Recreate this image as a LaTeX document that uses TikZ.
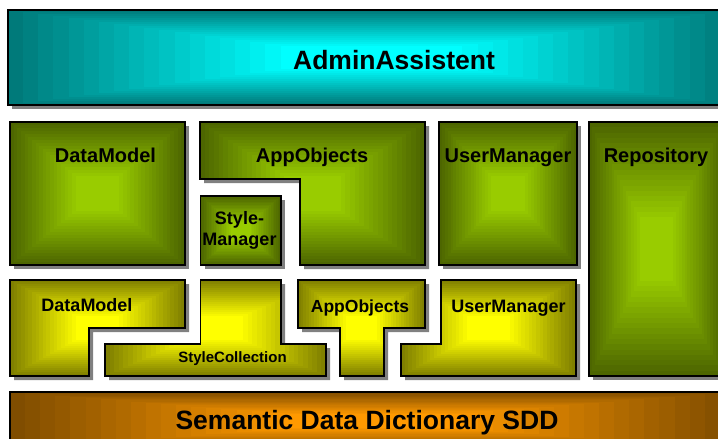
\documentclass[tikz,border=0pt]{standalone}
\usepackage{fontspec}
\setmainfont{Liberation Sans}
\definecolor{tealedge}{RGB}{0,122,122}
\definecolor{tealmid}{RGB}{0,255,255}
\definecolor{greenedge}{RGB}{77,102,0}
\definecolor{greenmid}{RGB}{153,204,0}
\definecolor{yeledge}{RGB}{128,128,0}
\definecolor{yelmid}{RGB}{255,255,0}
\definecolor{orgedge}{RGB}{128,77,0}
\definecolor{orgmid}{RGB}{255,153,0}
\definecolor{shadowgray}{RGB}{128,128,128}
\tikzset{
  outline/.style={draw=black, line width=1.1pt, line join=miter},
  shadowfill/.style={fill=shadowgray},
  lbl/.style={inner sep=0pt, anchor=base, align=center, font=\bfseries\fontsize{#1}{21}\selectfont},
}
% #1 path, #2-#5 bounding box x1 y1 x2 y2, #6 edge colour, #7 centre colour
\newcommand{\gshape}[7]{%
  \fill[shadowfill, shift={(4,4)}] #1;
  \begin{scope}
    \clip #1;
    \foreach \gk in {0,...,23}{%
      \pgfmathsetmacro{\gdx}{\gk/24*(#4-#2)/2}%
      \pgfmathsetmacro{\gdy}{\gk/24*(#5-#3)/2}%
      \pgfmathtruncatemacro{\gp}{min(100,100*\gk/18)}%
      \fill[#7!\gp!#6] (#2+\gdx,#3+\gdy) rectangle (#4-\gdx,#5-\gdy);
    }
  \end{scope}
  \draw[outline] #1;
}
\begin{document}
\begin{tikzpicture}[x=1pt,y=-1pt]
\useasboundingbox (0,0) rectangle (718,439);
\fill[white] (0,0) rectangle (718,439);
\begin{scope}
\clip (0,0) rectangle (718,439);
% top bar
\gshape{(8,10) rectangle (735,105)}{8}{10}{735}{105}{tealedge}{tealmid}
% row 1
\gshape{(10,122) rectangle (185,265)}{10}{122}{185}{265}{greenedge}{greenmid}
\gshape{(200,122) -- (425,122) -- (425,265) -- (300,265) -- (300,179) -- (200,179) -- cycle}{200}{122}{425}{265}{greenedge}{greenmid}
\gshape{(200.5,196) rectangle (281,265)}{200.5}{196}{281}{265}{greenedge}{greenmid}
\gshape{(439,122) rectangle (577,265)}{439}{122}{577}{265}{greenedge}{greenmid}
\gshape{(589,122) rectangle (724,376)}{589}{122}{724}{376}{greenedge}{greenmid}
% row 2
\gshape{(10,280) -- (185,280) -- (185,328) -- (89,328) -- (89,376) -- (10,376) -- cycle}{10}{280}{185}{376}{yeledge}{yelmid}
\gshape{(200.5,280) -- (281,280) -- (281,344) -- (326,344) -- (326,376) -- (105,376) -- (105,344) -- (200.5,344) -- cycle}{105}{280}{326}{376}{yeledge}{yelmid}
\gshape{(298,280) -- (425,280) -- (425,328) -- (384,328) -- (384,376) -- (340,376) -- (340,328) -- (298,328) -- cycle}{298}{280}{425}{376}{yeledge}{yelmid}
\gshape{(441,280) -- (576,280) -- (576,376) -- (401,376) -- (401,344) -- (441,344) -- cycle}{401}{280}{576}{376}{yeledge}{yelmid}
% bottom bar
\gshape{(10,392) rectangle (735,450)}{10}{392}{735}{450}{orgedge}{orgmid}
\end{scope}
% labels
\node[lbl=26.5] (admin) at (394,69) {AdminAssistent};
\node[lbl=20] (dm1) at (105.5,162) {DataModel};
\node[lbl=20] (ao1) at (312,162) {AppObjects};
\node[lbl=20] (um1) at (508,162) {UserManager};
\node[lbl=20] (repo) at (656,162) {Repository};
\node[lbl=18, anchor=center] (sm) at (239.5,230.5) {Style-\\Manager};
\node[lbl=18] (dm2) at (87,311) {DataModel};
\node[lbl=15] (sc) at (232.5,362) {StyleCollection};
\node[lbl=17.5] (ao2) at (360,312) {AppObjects};
\node[lbl=18] (um2) at (508.5,312) {UserManager};
\node[lbl=26.5] (sdd) at (367,429.5) {Semantic Data Dictionary SDD};
\end{tikzpicture}
\end{document}
